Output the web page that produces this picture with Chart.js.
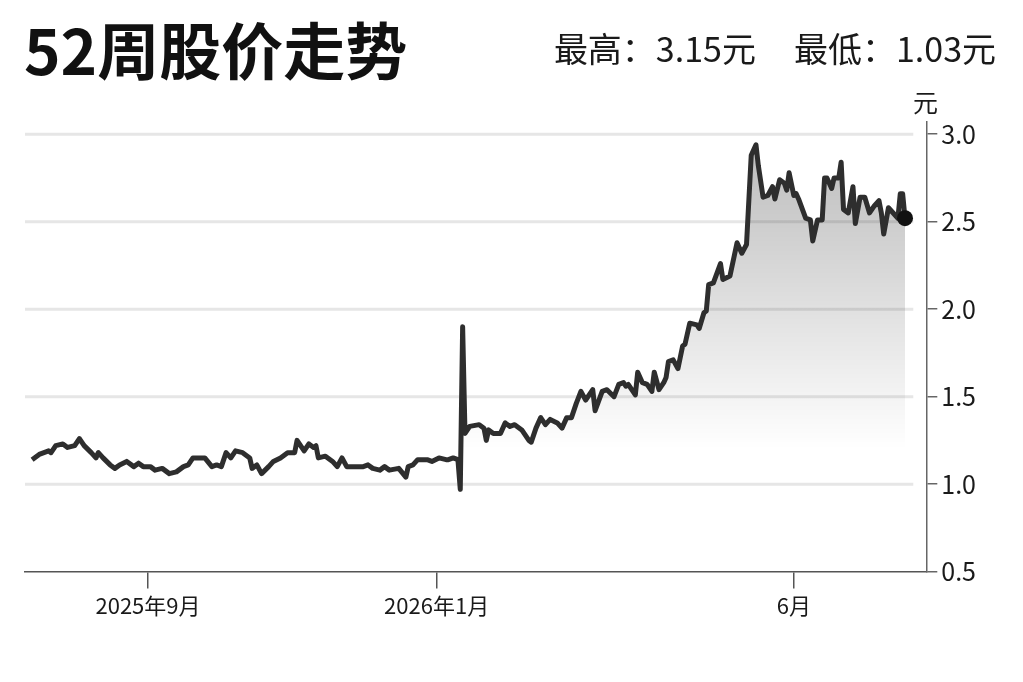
<!DOCTYPE html>
<html lang="zh-CN">

<head>
    <meta charset="UTF-8">
    <title>52周股价走势</title>
    <script src="https://cdn.jsdelivr.net/npm/chart.js"></script>
    <style>
        body {
            margin: 0;
            background: #fff;
            font-family: 'Noto Sans CJK SC', 'Noto Sans', sans-serif;
            color: #111;
        }

        .pagina {
            position: relative;
            width: 1023px;
            height: 682px;
            overflow: hidden;
        }

        .titulo {
            position: absolute;
            left: 24px;
            top: 17px;
            font-size: 62px;
            font-weight: 700;
            line-height: 1;
            white-space: nowrap;
        }

        .resumo {
            position: absolute;
            right: 27px;
            top: 31px;
            font-size: 34px;
            line-height: 1;
            white-space: nowrap;
            color: #1a1a1a;
        }

        .resumo span + span {
            margin-left: 38px;
        }

        .unidade {
            position: absolute;
            left: 913px;
            top: 89px;
            font-size: 25px;
            line-height: 1;
            color: #1a1a1a;
        }

        canvas {
            position: absolute;
            left: 0;
            top: 0;
        }
    </style>
</head>

<body>
    <div class="pagina">
        <canvas id="grafico" width="1023" height="682"></canvas>
        <div class="titulo">52周股价走势</div>
        <div class="resumo"><span>最高：3.15元</span><span>最低：1.03元</span></div>
        <div class="unidade">元</div>
    </div>

    <script>
        // eixo x: dias contados a partir de 2025-09-01
        const tickDays = [0, 122, 273];
        const tickLabels = ['2025年9月', '2026年1月', '6月'];
        const yTicks = [0.5, 1.0, 1.5, 2.0, 2.5, 3.0];

        const days = [
            -49, -46, -42, -41, -39, -36, -34, -31, -29, -27,
            -24, -22, -21, -19, -16, -14, -12, -9, -6, -4,
            -2, 1, 3, 6, 9, 12, 15, 17, 19, 24,
            27, 29, 31, 33, 35, 37, 40, 43, 44, 46,
            48, 51, 53, 56, 59, 62, 63, 66, 68, 70,
            71, 72, 75, 78, 80, 82, 84, 91, 93, 95,
            98, 100, 102, 106, 109, 110, 112, 114, 118, 120,
            123, 126, 127, 129, 131, 132, 133, 134, 136, 140,
            142, 143, 144, 146, 149, 151, 153, 155, 157, 158,
            161, 162, 164, 166, 168, 170, 173, 175, 177, 179,
            181, 183, 185, 188, 189, 192, 194, 197, 199, 201,
            202, 203, 205, 206, 207, 209, 211, 213, 214, 216,
            218, 219, 220, 222, 224, 226, 227, 229, 232, 233,
            235, 236, 237, 239, 242, 243, 246, 249, 251, 253,
            255, 257, 258, 260, 262, 264, 265, 267, 269, 270,
            271, 273, 274, 275, 278, 280, 281, 283, 285, 286,
            287, 289, 290, 292, 293, 294, 296, 298, 299, 301,
            303, 305, 307, 309, 310, 311, 313, 315, 317, 318,
            319, 320
        ];

        const prices = [
            1.14, 1.17, 1.19, 1.18, 1.22, 1.23, 1.21, 1.22, 1.26, 1.22,
            1.18, 1.15, 1.18, 1.15, 1.11, 1.09, 1.11, 1.13, 1.10, 1.12,
            1.10, 1.10, 1.08, 1.09, 1.06, 1.07, 1.10, 1.11, 1.15, 1.15,
            1.10, 1.11, 1.10, 1.18, 1.15, 1.19, 1.18, 1.15, 1.09, 1.11,
            1.06, 1.10, 1.13, 1.15, 1.18, 1.18, 1.25, 1.19, 1.23, 1.21,
            1.22, 1.15, 1.16, 1.13, 1.10, 1.15, 1.10, 1.10, 1.11, 1.09,
            1.08, 1.10, 1.08, 1.09, 1.04, 1.10, 1.11, 1.14, 1.14, 1.13,
            1.15, 1.14, 1.14, 1.15, 1.14, 0.97, 1.90, 1.29, 1.33, 1.34,
            1.32, 1.25, 1.31, 1.29, 1.29, 1.35, 1.33, 1.34, 1.32, 1.31,
            1.25, 1.24, 1.32, 1.38, 1.34, 1.37, 1.35, 1.32, 1.38, 1.38,
            1.46, 1.53, 1.48, 1.54, 1.42, 1.53, 1.54, 1.50, 1.57, 1.58,
            1.56, 1.57, 1.53, 1.51, 1.64, 1.58, 1.57, 1.53, 1.64, 1.54,
            1.58, 1.61, 1.70, 1.71, 1.66, 1.79, 1.80, 1.92, 1.91, 1.89,
            1.98, 1.99, 2.14, 2.15, 2.26, 2.17, 2.19, 2.38, 2.32, 2.37,
            2.88, 2.94, 2.82, 2.64, 2.65, 2.70, 2.63, 2.74, 2.72, 2.68,
            2.78, 2.65, 2.66, 2.63, 2.52, 2.51, 2.39, 2.51, 2.51, 2.75,
            2.75, 2.69, 2.75, 2.75, 2.84, 2.57, 2.55, 2.70, 2.49, 2.64,
            2.64, 2.55, 2.59, 2.62, 2.55, 2.43, 2.58, 2.55, 2.52, 2.66,
            2.66, 2.52
        ];

        Chart.defaults.font.family = "'Noto Sans CJK SC', 'Noto Sans', sans-serif";
        Chart.defaults.color = '#1a1a1a';

        // linhas de grade que param um pouco antes do eixo
        const gradeCurta = {
            id: 'gradeCurta',
            beforeDatasetsDraw(chart) {
                const { ctx, chartArea, scales } = chart;
                ctx.save();
                ctx.strokeStyle = '#e6e6e6';
                ctx.lineWidth = 3;
                yTicks.slice(1).forEach(v => {
                    const y = scales.y.getPixelForValue(v);
                    ctx.beginPath();
                    ctx.moveTo(chartArea.left, y);
                    ctx.lineTo(chartArea.right - 13, y);
                    ctx.stroke();
                });
                ctx.restore();
            }
        };

        function preenchimento(context) {
            const chart = context.chart;
            if (!chart.chartArea || !chart.scales.y) return 'rgba(0,0,0,0)';
            const y = chart.scales.y;
            const g = chart.ctx.createLinearGradient(0, y.getPixelForValue(3.0), 0, y.getPixelForValue(1.2));
            g.addColorStop(0, 'rgba(0, 0, 0, 0.27)');
            g.addColorStop(1, 'rgba(0, 0, 0, 0)');
            return g;
        }

        new Chart(document.getElementById('grafico'), {
            type: 'line',
            data: {
                datasets: [{
                    data: days.map((d, i) => ({ x: d, y: prices[i] })),
                    borderColor: '#2e2e2e',
                    borderWidth: 5,
                    borderJoinStyle: 'round',
                    fill: 'start',
                    backgroundColor: preenchimento,
                    tension: 0,
                    pointRadius: ctx => ctx.dataIndex === prices.length - 1 ? 8 : 0,
                    pointBackgroundColor: '#111',
                    pointBorderWidth: 0
                }]
            },
            options: {
                responsive: false,
                animation: false,
                layout: {
                    padding: { top: 122, left: 25, right: 43, bottom: 59 }
                },
                scales: {
                    x: {
                        type: 'linear',
                        min: -52,
                        max: 329,
                        afterBuildTicks: axis => {
                            axis.ticks = tickDays.map(v => ({ value: v }));
                        },
                        ticks: {
                            autoSkip: false,
                            maxRotation: 0,
                            padding: 4,
                            font: { size: 22 },
                            callback: (value, index) => tickLabels[index]
                        },
                        grid: {
                            drawOnChartArea: false,
                            tickLength: 17,
                            color: '#555',
                            lineWidth: 1.5
                        },
                        border: { display: true, color: '#555', width: 1.5 }
                    },
                    y: {
                        type: 'linear',
                        position: 'right',
                        min: 0.5,
                        max: 3.07,
                        afterBuildTicks: axis => {
                            axis.ticks = yTicks.map(v => ({ value: v }));
                        },
                        ticks: {
                            padding: 4,
                            font: { size: 25 },
                            callback: v => v.toFixed(1)
                        },
                        grid: {
                            drawOnChartArea: false,
                            tickLength: 11,
                            color: '#666',
                            lineWidth: 1.5
                        },
                        border: { display: true, color: '#666', width: 1.5 }
                    }
                },
                plugins: {
                    legend: { display: false },
                    tooltip: { enabled: false }
                }
            },
            plugins: [gradeCurta]
        });
    </script>
</body>

</html>
